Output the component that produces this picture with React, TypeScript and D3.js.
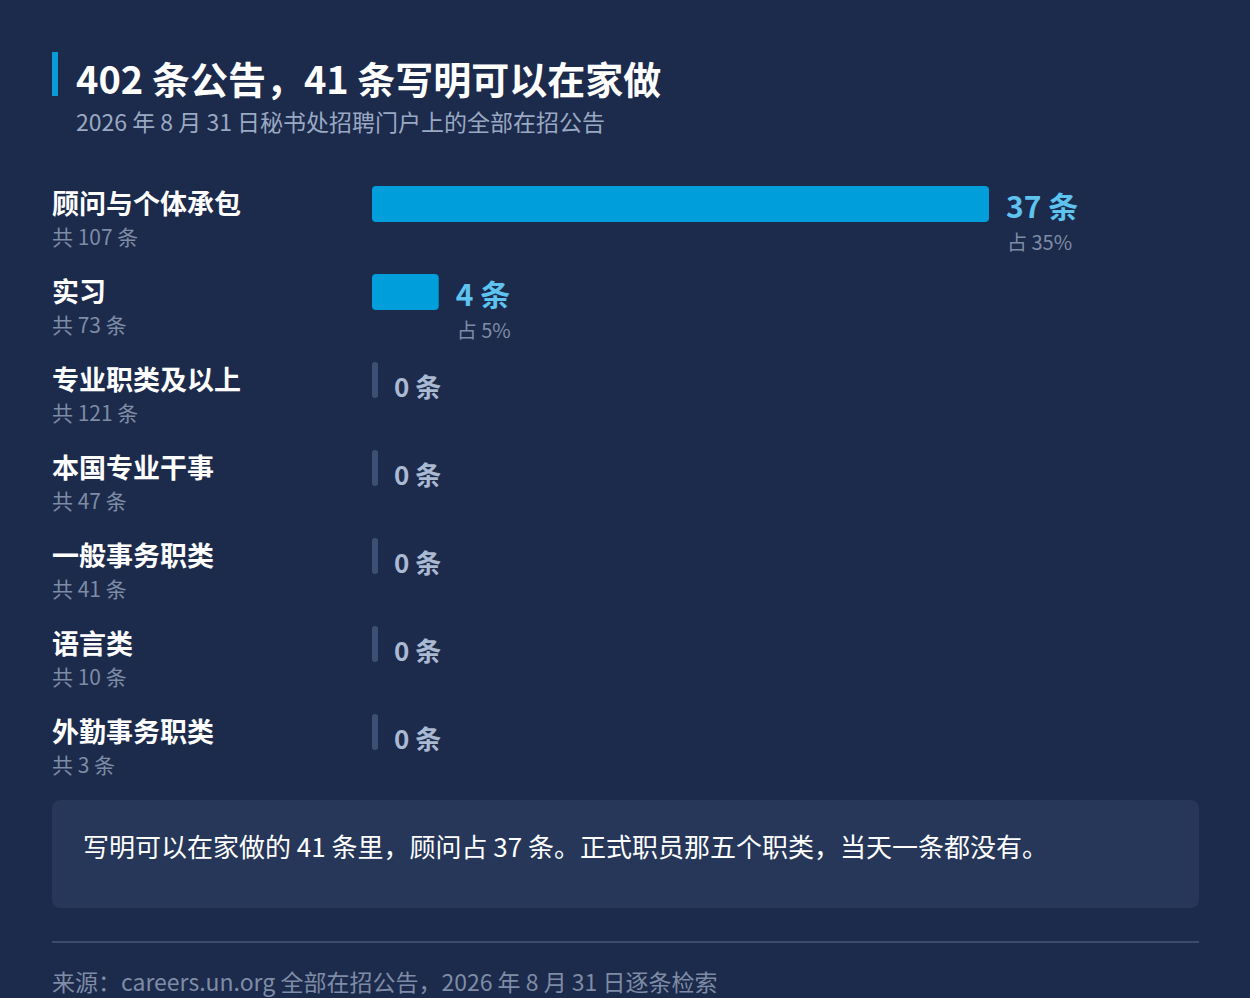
import React from "react";
import * as d3 from "d3";

const categories = ["顾问与个体承包", "实习", "专业职类及以上", "本国专业干事", "一般事务职类", "语言类", "外勤事务职类"];
const remoteCounts = [37, 4, 0, 0, 0, 0, 0];
const totalCounts = [107, 73, 121, 47, 41, 10, 3];

const title = "402 条公告，41 条写明可以在家做";
const subtitle = "2026 年 8 月 31 日秘书处招聘门户上的全部在招公告";
const note = "写明可以在家做的 41 条里，顾问占 37 条。正式职员那五个职类，当天一条都没有。";
const source = "来源：careers.un.org 全部在招公告，2026 年 8 月 31 日逐条检索";

const W = 1250;
const H = 998;
const FONT = "'Noto Sans CJK SC', 'Noto Sans', sans-serif";

export default function App() {
  const x = d3.scaleLinear().domain([0, 37]).range([372, 989]);
  const y = d3.scaleBand<string>().domain(categories).range([186, 186 + 88 * categories.length]).paddingInner(0).paddingOuter(0);
  const barH = 36;

  return (
    <svg
      width={W}
      height={H}
      style={{ position: "absolute", left: 0, top: 0, display: "block" }}
      fontFamily={FONT}
    >
      <rect x={0} y={0} width={W} height={H} fill="#1c2a4b" />
      <rect x={52} y={52} width={6} height={44} fill="#0a9ad8" />
      <text x={76} y={94} fontSize={38} fontWeight={700} fill="#ffffff">{title}</text>
      <text x={76} y={131} fontSize={23} fill="#9aa9c3">{subtitle}</text>

      {categories.map((c, i) => {
        const top = y(c)!;
        const v = remoteCounts[i];
        const end = v > 0 ? x(v) : x(0) + 6;
        const pct = Math.round((v / totalCounts[i]) * 100);
        return (
          <g key={c}>
            <text x={52} y={top + 28} fontSize={27} fontWeight={700} fill="#ffffff">{c}</text>
            <text x={52} y={top + 59} fontSize={21} fill="#7f8ca6">{`共 ${totalCounts[i]} 条`}</text>
            {v > 0 ? (
              <rect x={x(0)} y={top} width={x(v) - x(0)} height={barH} rx={4} fill="#009fdb" />
            ) : (
              <rect x={x(0)} y={top} width={6} height={barH} rx={3} fill="#3c5073" />
            )}
            {v > 0 ? (
              <>
                <text x={end + 17} y={top + 32} fontSize={30} fontWeight={700} fill="#5ec3ee">{`${v} 条`}</text>
                <text x={end + 18} y={top + 64} fontSize={20} fill="#7f8ca6">{`占 ${pct}%`}</text>
              </>
            ) : (
              <text x={end + 16} y={top + 35} fontSize={26} fontWeight={700} fill="#aab9d2">{`${v} 条`}</text>
            )}
          </g>
        );
      })}

      <rect x={52} y={800} width={1147} height={108} rx={8} fill="#263759" />
      <text x={83} y={857} fontSize={26} fill="#ffffff">{note}</text>

      <line x1={52} x2={1199} y1={942} y2={942} stroke="#3b4c6e" strokeWidth={2} />
      <text x={52} y={991} fontSize={23} fill="#7f8ca6">{source}</text>
    </svg>
  );
}
